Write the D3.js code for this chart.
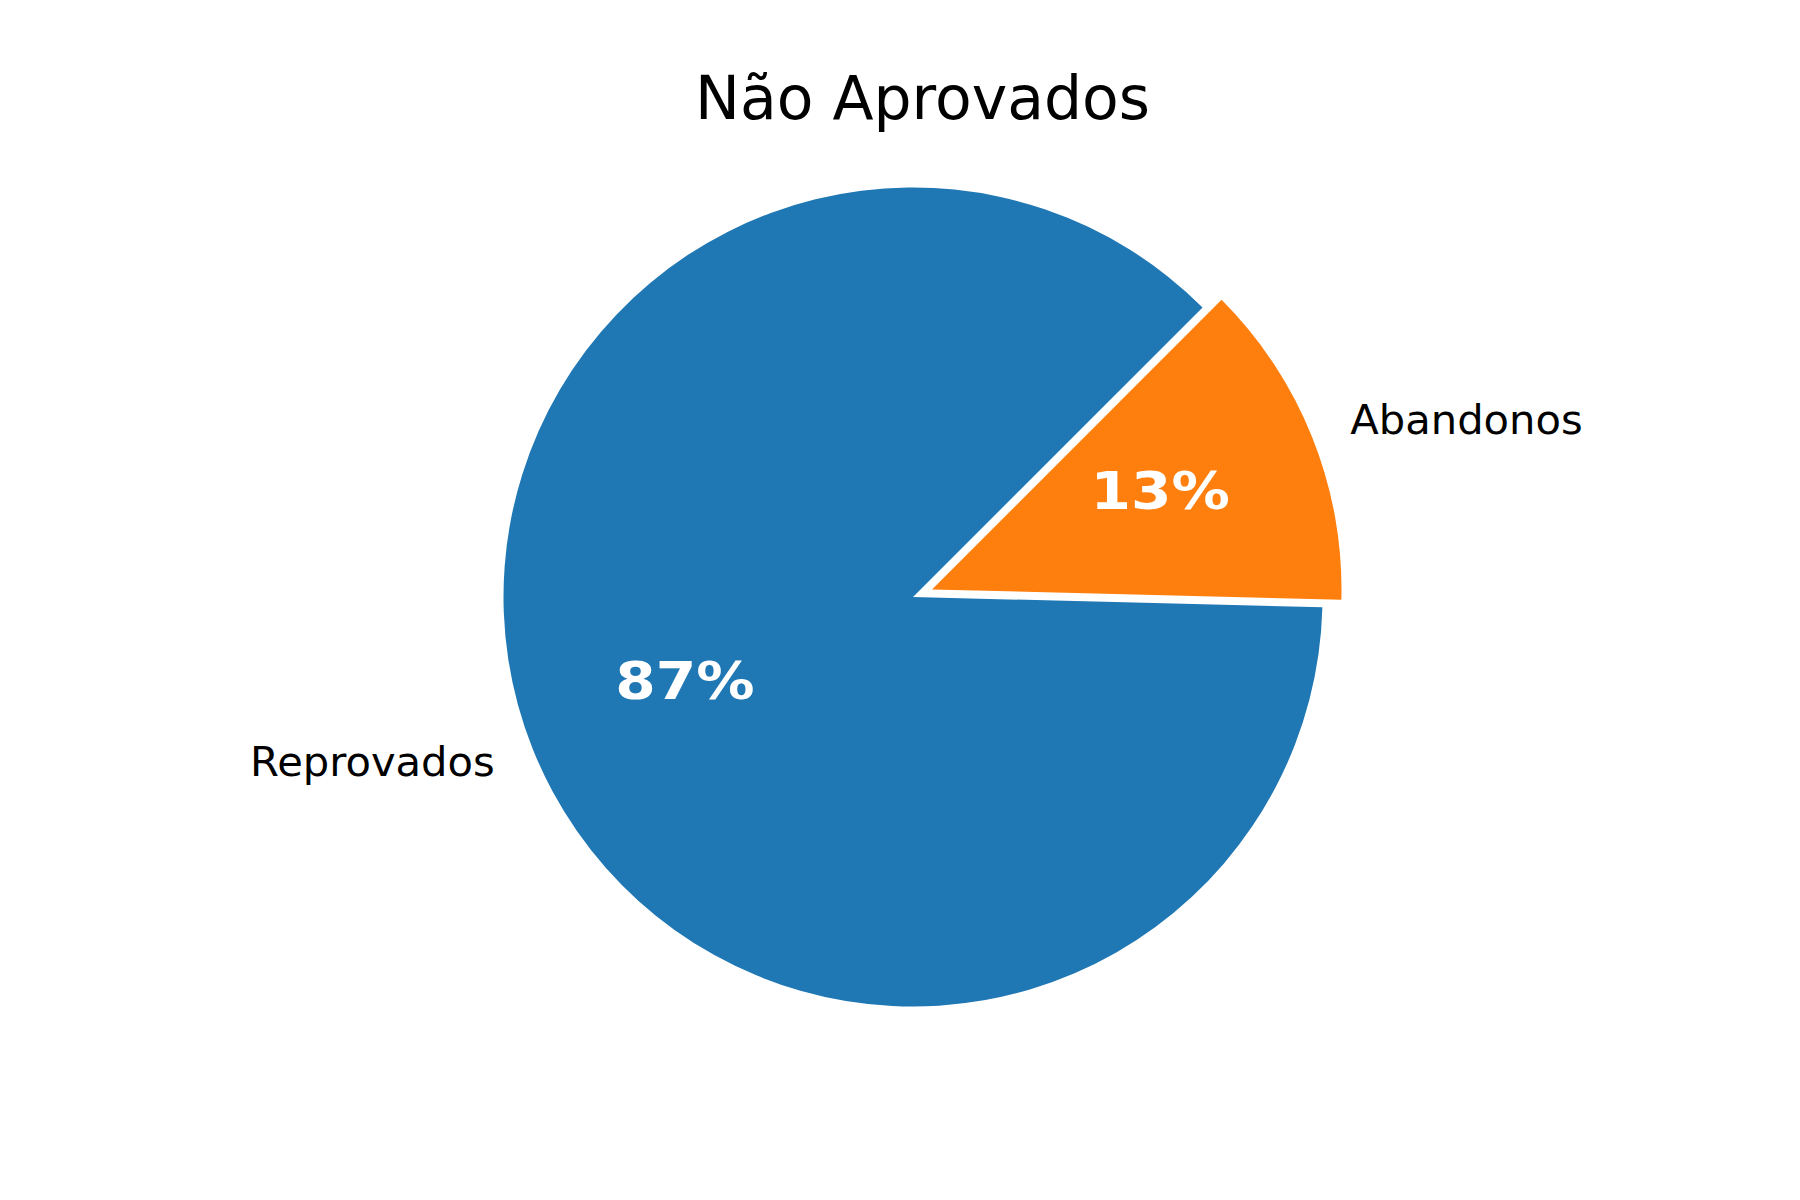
<!DOCTYPE html>
<html>
<head>
<meta charset="utf-8">
<script src="https://cdn.jsdelivr.net/npm/d3@7"></script>
<style>
  html, body { margin: 0; padding: 0; background: #ffffff; }
  svg { display: block; }
  text { font-family: "DejaVu Sans", sans-serif; }
</style>
</head>
<body>
<div id="chart"></div>
<script>
// ---- data ----
const categories = ["Reprovados", "Abandonos"];
const values = [87.1, 12.9];
const colors = ["#1f77b4", "#ff7f0e"];
const explode = [0, 0.05];
const title = "Não Aprovados";

// ---- layout ----
const W = 1800, H = 1200;
const cx = 913, cy = 597, R = 409.5;
const startDeg = 45; // matplotlib startangle, counter-clockwise

const svg = d3.select("#chart").append("svg")
  .attr("width", W).attr("height", H);
svg.append("rect").attr("width", W).attr("height", H).attr("fill", "#fff");

const rScale = d3.scaleLinear().domain([0, 1]).range([0, R]);

const a0 = (90 - startDeg) * Math.PI / 180;
const pie = d3.pie().sort(null).value(d => d.v)
  .startAngle(a0).endAngle(a0 - 2 * Math.PI);
const data = categories.map((c, i) => ({ c, v: values[i], col: colors[i], ex: explode[i] }));
const arcs = pie(data);
const arc = d3.arc().innerRadius(0).outerRadius(rScale(1));

const total = d3.sum(values);
const g = svg.append("g").attr("transform", `translate(${cx},${cy})`);

arcs.forEach(a => {
  const mid = (a.startAngle + a.endAngle) / 2;
  const ox = Math.sin(mid) * rScale(a.data.ex);
  const oy = -Math.cos(mid) * rScale(a.data.ex);
  const wg = g.append("g").attr("transform", `translate(${ox},${oy})`);
  wg.append("path").attr("d", arc(a)).attr("fill", a.data.col);

  // outer label at 1.1 r
  const lx = Math.sin(mid) * rScale(1.1);
  const ly = -Math.cos(mid) * rScale(1.1);
  const fsL = 41.67;
  wg.append("text")
    .attr("x", lx).attr("y", ly + 0.276 * fsL)
    .attr("text-anchor", lx > 0 ? "start" : "end")
    .attr("font-size", fsL).attr("fill", "#000")
    .text(a.data.c);

  // percentage label at 0.6 r
  const px = Math.sin(mid) * rScale(0.6);
  const py = -Math.cos(mid) * rScale(0.6);
  const fsP = 52;
  wg.append("text")
    .attr("transform", `translate(${px},${py + 0.2 * fsP}) scale(1.12,1)`)
    .attr("text-anchor", "middle")
    .attr("font-size", fsP).attr("font-weight", "bold").attr("fill", "#fff")
    .text(d3.format(".0f")(a.data.v / total * 100) + "%");
});

svg.append("text")
  .attr("x", 922.5).attr("y", 119)
  .attr("text-anchor", "middle")
  .attr("font-size", 60).attr("fill", "#000")
  .text(title);
</script>
</body>
</html>
